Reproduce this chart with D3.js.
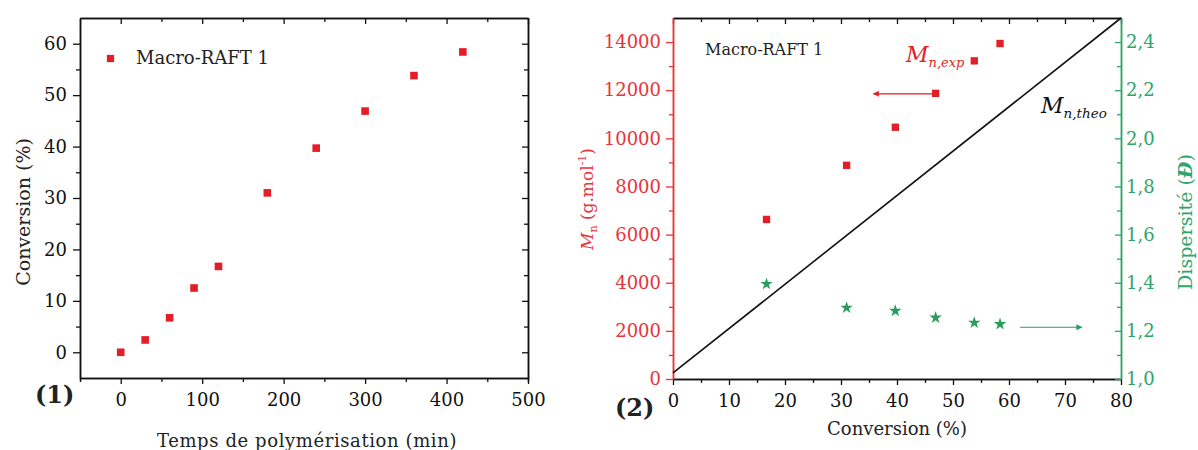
<!DOCTYPE html>
<html><head><meta charset="utf-8">
<script src="https://cdn.jsdelivr.net/npm/d3@7"></script>
<style>
body{margin:0;background:#fff}
svg{display:block}
text{font-family:"DejaVu Serif",serif}
</style></head><body>
<svg id="c" width="1198" height="450"></svg>
<script>
// ---------- data ----------
const timeMin      = [0, 30, 60, 90, 120, 180, 240, 300, 360, 420];
const conversion1  = [0, 2.4, 6.7, 12.5, 16.7, 31.0, 39.7, 46.9, 53.8, 58.4];
const convExp      = [16.7, 31.0, 39.7, 46.9, 53.8, 58.4];
const mnExp        = [6630, 8880, 10460, 11870, 13220, 13940];
const dispersity   = [1.395, 1.296, 1.283, 1.255, 1.234, 1.228];
const theoConv     = [0, 80];
const mnTheo       = [250, 15000];
const leftXTicks   = [0, 100, 200, 300, 400, 500];
const leftYTicks   = [0, 10, 20, 30, 40, 50, 60];
const rightXTicks  = [0, 10, 20, 30, 40, 50, 60, 70, 80];
const mnTicks      = [0, 2000, 4000, 6000, 8000, 10000, 12000, 14000];
const dispTicks    = [1.0, 1.2, 1.4, 1.6, 1.8, 2.0, 2.2, 2.4];

const RED = "#e8343a", DATARED = "#e41e26", GREEN = "#2fa56a", STAR = "#2a9c5c";
const svg = d3.select("#c");

function style(g, color, fs, width) {
  g.select(".domain").attr("stroke", color).attr("stroke-width", width || 1.5);
  g.selectAll(".tick line").attr("stroke", color).attr("stroke-width", 1.3);
  g.selectAll(".tick text").attr("fill", color).attr("font-size", fs)
    .attr("font-family", "DejaVu Serif");
  return g;
}
function minors(major) {
  const out = [];
  for (let i = 0; i < major.length - 1; i++) out.push((major[i] + major[i + 1]) / 2);
  return out;
}

// ================= Panel 1 =================
const x1 = d3.scaleLinear([-50, 500], [80, 528]);
const y1 = d3.scaleLinear([-5, 65], [378, 18]);
const p1 = svg.append("g");
const lxMin = minors(leftXTicks);
const lyMinor = minors(leftYTicks);

// bottom
style(p1.append("g").attr("transform", `translate(0,${y1.range()[0]})`)
  .call(d3.axisBottom(x1).tickValues(leftXTicks).tickSizeInner(6).tickSizeOuter(0).tickPadding(9)), "#111", 18);
style(p1.append("g").attr("transform", `translate(0,${y1.range()[0]})`)
  .call(d3.axisBottom(x1).tickValues(lxMin).tickSize(4).tickFormat("")), "#111", 18);
// top
style(p1.append("g").attr("transform", `translate(0,${y1.range()[1]})`)
  .call(d3.axisTop(x1).tickValues(leftXTicks).tickSize(-6).tickSizeOuter(0).tickFormat("")), "#111", 18);
style(p1.append("g").attr("transform", `translate(0,${y1.range()[1]})`)
  .call(d3.axisTop(x1).tickValues(lxMin).tickSize(-4).tickSizeOuter(0).tickFormat("")), "#111", 18);
// left
style(p1.append("g").attr("transform", `translate(${x1.range()[0]},0)`)
  .call(d3.axisLeft(y1).tickValues(leftYTicks).tickSizeInner(7).tickSizeOuter(0).tickPadding(6)), "#111", 18);
style(p1.append("g").attr("transform", `translate(${x1.range()[0]},0)`)
  .call(d3.axisLeft(y1).tickValues(lyMinor).tickSize(4).tickSizeOuter(0).tickFormat("")), "#111", 18);
// right
style(p1.append("g").attr("transform", `translate(${x1.range()[1]},0)`)
  .call(d3.axisRight(y1).tickValues(leftYTicks).tickSize(-6).tickSizeOuter(0).tickFormat("")), "#111", 18);
style(p1.append("g").attr("transform", `translate(${x1.range()[1]},0)`)
  .call(d3.axisRight(y1).tickValues(lyMinor).tickSize(-4).tickSizeOuter(0).tickFormat("")), "#111", 18);

p1.append("g").selectAll("path").data(timeMin).join("path")
  .attr("d", d3.symbol(d3.symbolSquare, 58))
  .attr("transform", (d, i) => `translate(${x1(d)},${y1(conversion1[i])})`)
  .attr("fill", DATARED);

// legend
p1.append("path").attr("d", d3.symbol(d3.symbolSquare, 52)).attr("transform", "translate(110.5,58.5)").attr("fill", DATARED);
p1.append("text").attr("x", 136).attr("y", 64).attr("font-size", 18).attr("fill", "#222").text("Macro-RAFT 1");

// titles
p1.append("text").attr("transform", "translate(30,212) rotate(-90)").attr("text-anchor", "middle")
  .attr("font-size", 19).attr("fill", "#222").text("Conversion (%)");
p1.append("text").attr("x", 307).attr("y", 447).attr("text-anchor", "middle")
  .attr("font-size", 18).attr("letter-spacing", 0.6).attr("fill", "#222").text("Temps de polymérisation (min)");
p1.append("text").attr("x", 35).attr("y", 403).attr("font-size", 24).attr("font-weight", "bold")
  .attr("fill", "#222").text("(1)");

// ================= Panel 2 =================
const x2 = d3.scaleLinear([0, 80], [673, 1121]);
const yMn = d3.scaleLinear([0, 15000], [379, 18]);
const yD = d3.scaleLinear([1.0, 2.5], [379, 18]);
const p2 = svg.append("g");
const rxMin = minors(rightXTicks);
const mnMin = minors(mnTicks);
const dMin = minors(dispTicks);
const commaFmt = d => d3.format(".1f")(d).replace(".", ",");

// bottom
style(p2.append("g").attr("transform", `translate(0,${yMn.range()[0]})`)
  .call(d3.axisBottom(x2).tickValues(rightXTicks).tickSizeInner(6).tickSizeOuter(0).tickPadding(9)), "#111", 18);
style(p2.append("g").attr("transform", `translate(0,${yMn.range()[0]})`)
  .call(d3.axisBottom(x2).tickValues(rxMin).tickSize(4).tickSizeOuter(0).tickFormat("")), "#111", 18);
// top
style(p2.append("g").attr("transform", `translate(0,${yMn.range()[1]})`)
  .call(d3.axisTop(x2).tickValues(rightXTicks).tickSize(-6).tickSizeOuter(0).tickFormat("")), "#111", 18);
style(p2.append("g").attr("transform", `translate(0,${yMn.range()[1]})`)
  .call(d3.axisTop(x2).tickValues(rxMin).tickSize(-4).tickSizeOuter(0).tickFormat("")), "#111", 18);
// left (red)
style(p2.append("g").attr("transform", `translate(${x2.range()[0]},0)`)
  .call(d3.axisLeft(yMn).tickValues(mnTicks).tickSizeInner(7).tickSizeOuter(0).tickPadding(5).tickFormat(d3.format("d"))), RED, 18);
style(p2.append("g").attr("transform", `translate(${x2.range()[0]},0)`)
  .call(d3.axisLeft(yMn).tickValues(mnMin).tickSize(4).tickSizeOuter(0).tickFormat("")), RED, 18);
// right (green)
style(p2.append("g").attr("transform", `translate(${x2.range()[1]},0)`)
  .call(d3.axisRight(yD).tickValues(dispTicks).tickSizeInner(-6).tickSizeOuter(0).tickPadding(5).tickFormat(commaFmt)), GREEN, 18);
style(p2.append("g").attr("transform", `translate(${x2.range()[1]},0)`)
  .call(d3.axisRight(yD).tickValues(dMin).tickSize(-4).tickSizeOuter(0).tickFormat("")), GREEN, 18);

// theoretical line
p2.append("path").datum(theoConv.map((c, i) => [c, mnTheo[i]]))
  .attr("d", d3.line().x(d => x2(d[0])).y(d => yMn(d[1])))
  .attr("stroke", "#111").attr("stroke-width", 1.6).attr("fill", "none");

// Mn exp squares
p2.append("g").selectAll("path").data(convExp).join("path")
  .attr("d", d3.symbol(d3.symbolSquare, 54))
  .attr("transform", (d, i) => `translate(${x2(d)},${yMn(mnExp[i])})`)
  .attr("fill", DATARED);
// dispersity stars
p2.append("g").selectAll("path").data(convExp).join("path")
  .attr("d", d3.symbol(d3.symbolStar, 48))
  .attr("transform", (d, i) => `translate(${x2(d)},${yD(dispersity[i])})`)
  .attr("fill", STAR);

// arrows
const defs = svg.append("defs");
function marker(id, color) {
  defs.append("marker").attr("id", id).attr("viewBox", "0 0 10 10").attr("refX", 9).attr("refY", 5)
    .attr("markerWidth", 9).attr("markerHeight", 6).attr("markerUnits", "userSpaceOnUse").attr("orient", "auto")
    .append("path").attr("d", "M0,0L10,5L0,10z").attr("fill", color);
}
marker("ar", DATARED); marker("ag", STAR);
p2.append("line").attr("x1", x2(46.5)).attr("x2", x2(35.8)).attr("y1", yMn(11850)).attr("y2", yMn(11850))
  .attr("stroke", DATARED).attr("stroke-width", 1.2).attr("marker-end", "url(#ar)");
p2.append("line").attr("x1", x2(62.0)).attr("x2", x2(73.0)).attr("y1", yD(1.215)).attr("y2", yD(1.215))
  .attr("stroke", STAR).attr("stroke-width", 1.2).attr("marker-end", "url(#ag)");

// annotations
p2.append("text").attr("x", 705).attr("y", 55).attr("font-size", 16).attr("fill", "#222").text("Macro-RAFT 1");
const te = p2.append("text").attr("x", 906).attr("y", 62).attr("fill", DATARED).attr("font-style", "italic");
te.append("tspan").attr("font-size", 22).text("M");
te.append("tspan").attr("font-size", 13).attr("dy", 5).text("n,exp");
const tt = p2.append("text").attr("x", 1041).attr("y", 113).attr("fill", "#111").attr("font-style", "italic");
tt.append("tspan").attr("font-size", 22).text("M");
tt.append("tspan").attr("font-size", 13.5).attr("dy", 5).text("n,theo");

// axis titles
p2.append("text").attr("x", 897).attr("y", 435).attr("text-anchor", "middle").attr("font-size", 18)
  .attr("fill", "#222").text("Conversion (%)");
const tm = p2.append("text").attr("transform", "translate(593,199) rotate(-90)").attr("text-anchor", "middle")
  .attr("fill", RED).attr("font-size", 17);
tm.append("tspan").attr("font-style", "italic").text("M");
tm.append("tspan").attr("font-size", 11).attr("dy", 4).text("n");
tm.append("tspan").attr("dy", -4).text(" (g.mol");
tm.append("tspan").attr("font-size", 11).attr("dy", -7).text("-1");
tm.append("tspan").attr("dy", 7).text(")");
const td = p2.append("text").attr("transform", "translate(1192,222) rotate(-90)").attr("text-anchor", "middle")
  .attr("fill", GREEN).attr("font-size", 19).attr("font-family", "Noto Sans");
td.append("tspan").text("Dispersité (");
td.append("tspan").attr("font-style", "italic").attr("font-weight", "bold").text("Đ");
td.append("tspan").text(")");
p2.append("text").attr("x", 615).attr("y", 416).attr("font-size", 24).attr("font-weight", "bold")
  .attr("fill", "#222").text("(2)");
</script></body></html>
